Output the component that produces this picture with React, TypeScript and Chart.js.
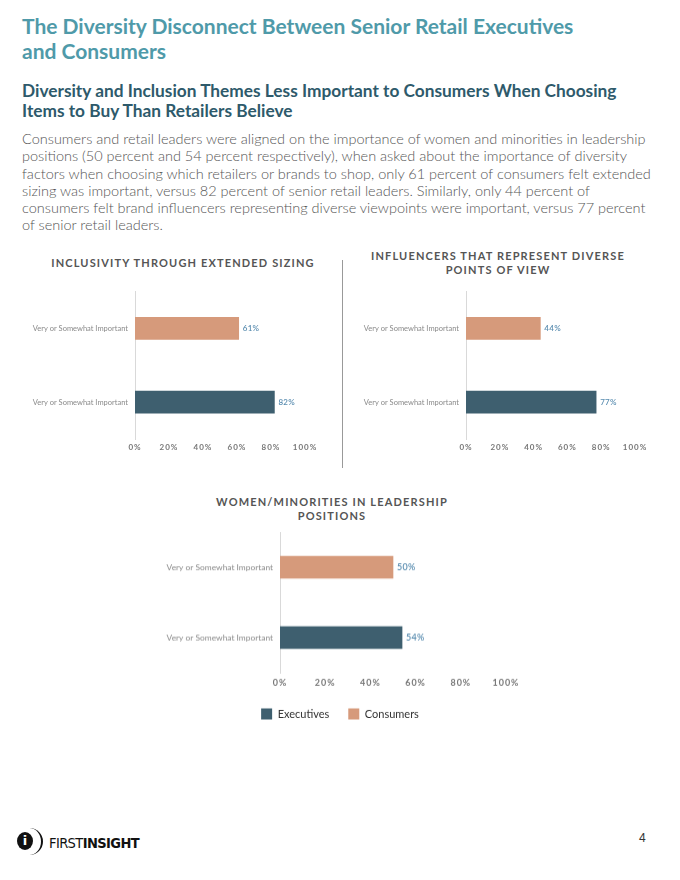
import React, { useEffect, useRef } from 'react';
import { Chart, registerables } from 'chart.js';

Chart.register(...registerables);

// ---------- data ----------
const categories = ['Very or Somewhat Important', 'Very or Somewhat Important'];
const seriesNames = ['Executives', 'Consumers'];
const chartTitles = [
  ['INCLUSIVITY THROUGH EXTENDED SIZING'],
  ['INFLUENCERS THAT REPRESENT DIVERSE', 'POINTS OF VIEW'],
  ['WOMEN/MINORITIES IN LEADERSHIP', 'POSITIONS'],
];
const executivesValues = [82, 77, 54];
const consumersValues = [61, 44, 50];
const xTickLabels = ['0%', '20%', '40%', '60%', '80%', '100%'];

const pageTitle = ['The Diversity Disconnect Between Senior Retail Executives', 'and Consumers'];
const pageSubtitle = [
  'Diversity and Inclusion Themes Less Important to Consumers When Choosing',
  'Items to Buy Than Retailers Believe',
];
const bodyLines = [
  'Consumers and retail leaders were aligned on the importance of women and minorities in leadership',
  'positions (50 percent and 54 percent respectively), when asked about the importance of diversity',
  'factors when choosing which retailers or brands to shop, only 61 percent of consumers felt extended',
  'sizing was important, versus 82 percent of senior retail leaders. Similarly, only 44 percent of',
  'consumers felt brand influencers representing diverse viewpoints were important, versus 77 percent',
  'of senior retail leaders.',
];

// ---------- styles ----------
const EXEC_COLOR = '#3e5f6f';
const CONS_COLOR = '#d69a7b';
const FONT = 'Lato, "Open Sans", sans-serif';

const valueLabels = {
  id: 'valueLabels',
  beforeDraw(chart: any) {
    chart.ctx.letterSpacing = '0px';
    // centre the legend on the whole canvas rather than the padded area
    const lg = chart.legend;
    if (lg && lg.options && lg.options.display) {
      lg.left = 0;
      lg.right = chart.width;
    }
  },
  afterDatasetsDraw(chart: any, _args: any, opts: any) {
    const ctx = chart.ctx;
    const size = (opts && opts.size) || 8;
    ctx.save();
    ctx.letterSpacing = '0.3px';
    ctx.font = `600 ${size}px ${FONT}`;
    ctx.fillStyle = '#5a8db0';
    ctx.textBaseline = 'middle';
    ctx.textAlign = 'left';
    chart.data.datasets.forEach((ds: any, di: number) => {
      const meta = chart.getDatasetMeta(di);
      meta.data.forEach((el: any, i: number) => {
        const v = ds.data[i];
        if (v == null) return;
        ctx.fillText(v + '%', el.x + 4, el.y + 0.5);
      });
    });
    ctx.restore();
    // spacing for the x tick labels, which are drawn afterwards (z: 1)
    ctx.letterSpacing = '1px';
  },
};

type BarProps = {
  idx: number;
  left: number;
  top: number;
  width: number;
  height: number;
  yAxisWidth: number;
  pad: { top: number; right: number; bottom: number; left: number };
  tickPad: number;
  xHeight: number;
  fs: number;
  legend: boolean;
};

function BarChart(p: BarProps) {
  const ref = useRef<HTMLCanvasElement | null>(null);
  useEffect(() => {
    if (!ref.current) return;
    const chart = new Chart(ref.current, {
      type: 'bar',
      data: {
        labels: categories,
        datasets: [
          {
            label: seriesNames[0],
            data: [null, executivesValues[p.idx]],
            backgroundColor: EXEC_COLOR,
            borderWidth: 0,
            grouped: false,
            barThickness: 22,
          },
          {
            label: seriesNames[1],
            data: [consumersValues[p.idx], null],
            backgroundColor: CONS_COLOR,
            borderWidth: 0,
            grouped: false,
            barThickness: 22,
          },
        ] as any,
      },
      options: {
        indexAxis: 'y',
        animation: false,
        responsive: true,
        maintainAspectRatio: false,
        layout: { padding: p.pad },
        plugins: {
          legend: {
            display: p.legend,
            position: 'bottom',
            labels: {
              boxWidth: 11,
              boxHeight: 11,
              padding: 19,
              color: '#333',
              font: { family: FONT, size: 11 },
            },
          },
          tooltip: { enabled: false },
          title: { display: false },
          valueLabels: { size: 8 * p.fs },
        },
        scales: {
          x: {
            min: 0,
            max: 100,
            ticks: {
              stepSize: 20,
              padding: p.tickPad,
              color: '#777',
              font: { family: FONT, size: 8 * p.fs, weight: 'bold' },
              z: 1,
              callback: (_v: any, i: number) => xTickLabels[i],
            },
            grid: { display: false, drawTicks: false, tickLength: 0 },
            border: { display: false },
            afterFit: (s: any) => {
              s.height = p.xHeight;
            },
          },
          y: {
            ticks: {
              padding: 7,
              color: '#8a8a8a',
              font: { family: FONT, size: 7.5 * p.fs },
            },
            grid: { display: false, drawTicks: false, tickLength: 0 },
            border: { display: true, color: '#d9d9d9', width: 1 },
            afterFit: (s: any) => {
              s.width = p.yAxisWidth;
            },
          },
        },
      } as any,
      plugins: [valueLabels],
    });
    return () => chart.destroy();
  }, []);
  return (
    <div style={{ position: 'absolute', left: p.left, top: p.top, width: p.width, height: p.height }}>
      <canvas ref={ref} />
    </div>
  );
}

function ChartHeader({ lines, cx, top, lh }: { lines: string[]; cx: number; top: number; lh: number }) {
  return (
    <div
      style={{
        position: 'absolute',
        left: cx - 170,
        width: 340,
        top,
        textAlign: 'center',
        fontFamily: FONT,
        fontWeight: 700,
        fontSize: 11,
        lineHeight: lh + 'px',
        letterSpacing: '1.15px',
        color: '#555',
        whiteSpace: 'nowrap',
      }}
    >
      {lines.map((l, i) => (
        <div key={i}>{l}</div>
      ))}
    </div>
  );
}

export default function App() {
  return (
    <div
      style={{
        position: 'absolute',
        left: 0,
        top: 0,
        width: 680,
        height: 880,
        background: '#fff',
        overflow: 'hidden',
        fontFamily: FONT,
      }}
    >
      <div
        style={{
          position: 'absolute',
          left: 22,
          top: 13,
          fontSize: 21,
          fontWeight: 700,
          lineHeight: '25px',
          color: '#4f9aa9',
          whiteSpace: 'nowrap',
        }}
      >
        {pageTitle.map((l, i) => (
          <div key={i}>{l}</div>
        ))}
      </div>
      <div
        style={{
          position: 'absolute',
          left: 22,
          top: 81,
          fontSize: 17.3,
          fontWeight: 700,
          lineHeight: '19.5px',
          color: '#2e5a6b',
          whiteSpace: 'nowrap',
        }}
      >
        {pageSubtitle.map((l, i) => (
          <div key={i}>{l}</div>
        ))}
      </div>
      <div
        style={{
          position: 'absolute',
          left: 22,
          top: 130,
          fontSize: 14.5,
          fontWeight: 300,
          lineHeight: '17.3px',
          color: '#555',
          whiteSpace: 'nowrap',
        }}
      >
        {bodyLines.map((l, i) => (
          <div key={i}>{l}</div>
        ))}
      </div>

      <ChartHeader lines={chartTitles[0]} cx={183} top={256} lh={14} />
      <ChartHeader lines={chartTitles[1]} cx={498} top={249} lh={14} />
      <ChartHeader lines={chartTitles[2]} cx={332} top={495} lh={13.5} />

      <div style={{ position: 'absolute', left: 342, top: 260, width: 1, height: 208, background: '#999' }} />

      <BarChart
        idx={0}
        left={20}
        top={280}
        width={310}
        height={179}
        yAxisWidth={115}
        pad={{ top: 11, right: 25, bottom: 0, left: 0 }}
        tickPad={4}
        xHeight={20}
        fs={1}
        legend={false}
      />
      <BarChart
        idx={1}
        left={350}
        top={280}
        width={310}
        height={179}
        yAxisWidth={116}
        pad={{ top: 11, right: 25, bottom: 0, left: 0 }}
        tickPad={4}
        xHeight={20}
        fs={1}
        legend={false}
      />
      <BarChart
        idx={2}
        left={150}
        top={520}
        width={380}
        height={208.5}
        yAxisWidth={130}
        pad={{ top: 10, right: 24, bottom: 0, left: 0 }}
        tickPad={5}
        xHeight={16.5}
        fs={1.12}
        legend={true}
      />

      {/* footer logo */}
      <div
        style={{
          position: 'absolute',
          left: 17,
          top: 832,
          width: 16,
          height: 18,
          borderRadius: '50%',
          background: '#111',
          color: '#fff',
          fontFamily: '"DejaVu Sans", sans-serif',
          fontWeight: 700,
          fontSize: 13,
          lineHeight: '18px',
          textAlign: 'center',
        }}
      >
        i
      </div>
      <div
        style={{
          position: 'absolute',
          left: 16,
          top: 828,
          width: 27,
          height: 27,
          boxSizing: 'border-box',
          borderRadius: '50%',
          borderRight: '2.5px solid #111',
        }}
      />
      <div
        style={{
          position: 'absolute',
          left: 49,
          top: 833.5,
          fontFamily: '"DejaVu Sans Condensed", "DejaVu Sans", sans-serif',
          fontSize: 14.5,
          lineHeight: '18px',
          color: '#111',
          letterSpacing: '-0.6px',
          whiteSpace: 'nowrap',
        }}
      >
        <span style={{ fontWeight: 400 }}>FIRST</span>
        <span style={{ fontWeight: 700 }}>INSIGHT</span>
      </div>
      <div
        style={{
          position: 'absolute',
          left: 639,
          top: 830,
          fontFamily: '"Liberation Sans", sans-serif',
          fontSize: 12,
          lineHeight: '16px',
          color: '#333',
        }}
      >
        4
      </div>
    </div>
  );
}
